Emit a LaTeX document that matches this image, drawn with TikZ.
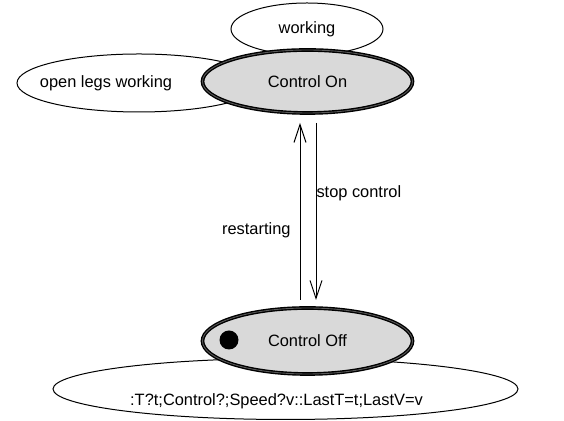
\documentclass[tikz,border=0pt]{standalone}
\usepackage{fontspec}
\setmainfont{Liberation Sans}
\usetikzlibrary{shapes.geometric,arrows.meta}
\begin{document}
\begin{tikzpicture}[x=0.5pt,y=-0.5pt,
    every node/.style={font=\fontsize{8.2}{10}\selectfont},
    note/.style={ellipse,draw,fill=white,inner sep=0pt,outer sep=0pt,line width=0.5pt},
    state/.style={ellipse,draw,fill=black!15,inner sep=0pt,outer sep=0pt,
      line width=0.7pt,double=black!65,double distance=0.45pt},
    trans/.style={-{Straight Barb[length=9pt,width=6pt]},line width=0.5pt}]
      \useasboundingbox (0,0) rectangle (564,421);
      \draw
        (307,29) node[note,minimum width=76pt,minimum height=26pt] (working){working}
        (139,83) node[note,minimum width=122pt,minimum height=29pt] (legs){}
        (106,83) node (legstext){open legs working}
        (285.5,389) node[note,minimum width=232.5pt,minimum height=30.5pt] (entry){}
        (276.5,401) node (entrytext){:T?t;Control?;Speed?v::LastT=t;LastV=v}
        (307.5,81.5) node[state,minimum width=105pt,minimum height=31.5pt] (on){Control On}
        (307.5,341) node[state,minimum width=105pt,minimum height=33pt] (off){Control Off}
        (229,340) node[circle,fill=black,inner sep=0pt,minimum size=9.5pt] (init){};
      \begin{scope}[trans]
        \draw[shorten <=4pt,shorten >=5pt] ([xshift=-3.75pt]off.north) to
          node[pos=0.4,left=4.5pt,inner sep=0pt] (restart){restarting} ([xshift=-3.75pt]on.south);
        \draw[shorten <=5pt,shorten >=4pt] ([xshift=4.25pt]on.south) to
          node[pos=0.41,right=0pt,inner sep=0pt] (stop){stop control} ([xshift=4.25pt]off.north);
      \end{scope}
    \end{tikzpicture}
\end{document}
